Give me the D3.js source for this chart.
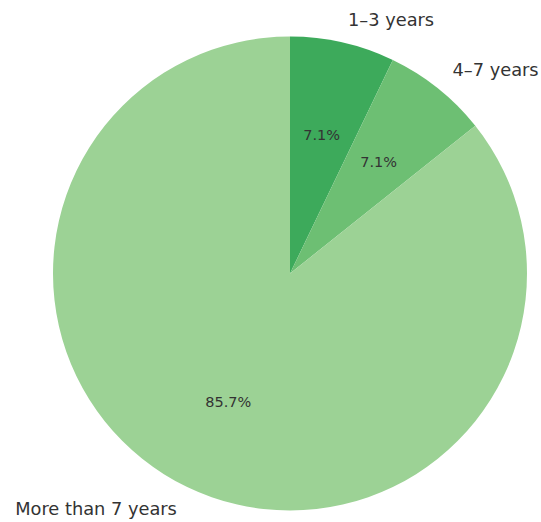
<!DOCTYPE html>
<html>
<head>
<meta charset="utf-8">
<script src="https://cdn.jsdelivr.net/npm/d3@7"></script>
<style>
  html, body { margin: 0; padding: 0; background: #fff; }
  svg { display: block; }
</style>
</head>
<body>
<svg id="chart" width="541" height="522"></svg>
<script>
const categories = ["1–3 years", "4–7 years", "More than 7 years"];
const values = [1, 1, 12];
const percentLabels = ["7.1%", "7.1%", "85.7%"];
const colors = ["#3daa5b", "#6dbf73", "#9cd295"];

const svg = d3.select("#chart");
const cx = 290, cy = 273.5, r = 237;

const pie = d3.pie().sort(null).value(d => d)(values);
const arc = d3.arc().innerRadius(0).outerRadius(r);
const g = svg.append("g").attr("transform", `translate(${cx},${cy})`);

g.selectAll("path.slice").data(pie).join("path")
  .attr("class", "slice")
  .attr("d", arc)
  .attr("fill", (d, i) => colors[i]);

const mid = d => (d.startAngle + d.endAngle) / 2;

g.selectAll("text.pct").data(pie).join("text")
  .attr("class", "pct")
  .attr("x", d => Math.sin(mid(d)) * r * 0.6)
  .attr("y", d => -Math.cos(mid(d)) * r * 0.6)
  .attr("text-anchor", "middle")
  .attr("dominant-baseline", "central")
  .attr("font-family", "DejaVu Sans, sans-serif")
  .attr("font-size", "14.5px")
  .attr("fill", "#333")
  .text((d, i) => percentLabels[i]);

g.selectAll("text.lbl").data(pie).join("text")
  .attr("class", "lbl")
  .attr("x", d => Math.sin(mid(d)) * r * 1.1)
  .attr("y", d => -Math.cos(mid(d)) * r * 1.1)
  .attr("text-anchor", d => Math.sin(mid(d)) < 0 ? "end" : "start")
  .attr("dominant-baseline", "central")
  .attr("font-family", "DejaVu Sans, sans-serif")
  .attr("font-size", "17.8px")
  .attr("fill", "#333")
  .text((d, i) => categories[i]);
</script>
</body>
</html>
